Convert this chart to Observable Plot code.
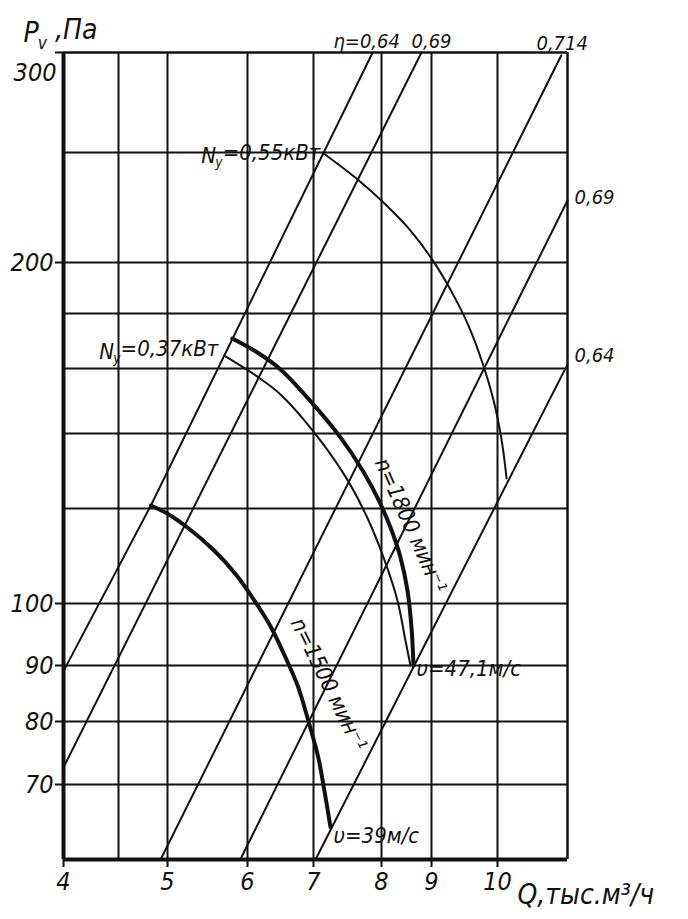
<!DOCTYPE html>
<html><head><meta charset="utf-8">
<script src="https://cdn.jsdelivr.net/npm/d3@7"></script>
<script src="https://cdn.jsdelivr.net/npm/@observablehq/plot@0.6"></script>
<style>body{margin:0;background:#fff}</style>
</head><body><div id="chart"></div>
<script>
const FONT = "'DejaVu Sans Condensed','Liberation Sans Narrow','DejaVu Sans',sans-serif";
const INK = "#111";

// Scale break values of the hand-drawn grid (Q, thousand m3/h; Pv, Pa)
const qBreaks = [4, 4.5, 5, 6, 7, 8, 9, 10, 11];
const pBreaks = [60, 70, 80, 90, 100, 120, 140, 160, 180, 200, 250, 300];
const qGrid = [4.5, 5, 6, 7, 8, 9, 10];
const pGrid = [70, 80, 90, 100, 120, 140, 160, 180, 200, 250];
const qTicks = [4, 5, 6, 7, 8, 9, 10];
const pTicks = [70, 80, 90, 100, 200, 300];

// Efficiency (system) lines, [Q, P]
const eta064Top = [[4, 89], [4.83, 120.8], [7.87, 300]];
const eta069Top = [[4, 72.7], [8.8, 300]];
const eta0714Top = [[4.93, 60], [10.91, 298.5]];
const eta069Right = [[5.91, 60], [11, 228.2]];
const eta064Right = [[7.03, 60], [11, 161.5]];

// Fan curves, [Q, P]
const power055 = [[7.13, 250], [7.65, 237.7], [8.06, 226.8], [8.58, 214.5], [9.03, 200.5], [9.32, 187.8], [9.56, 175.6], [9.77, 162.2], [9.94, 150.2], [10.06, 138.1], [10.13, 128]];
const power037 = [[5.71, 164.7], [6.15, 157.5], [6.5, 152], [7.0, 140.6], [7.47, 128.5], [7.79, 118.1], [8.04, 109.7], [8.32, 100.6], [8.48, 94.0], [8.58, 90]];
const speed1800 = [[5.81, 170.9], [6.15, 165.8], [6.5, 159.7], [7.0, 148.9], [7.40, 138.9], [7.74, 129.6], [7.94, 122.9], [8.18, 116.0], [8.38, 109.7], [8.52, 102.7], [8.60, 96.1], [8.64, 90]];
const speed1500 = [[4.83, 120.8], [5.0, 118.9], [5.25, 116.0], [5.58, 111.2], [5.86, 106.0], [6.11, 100.5], [6.35, 96.3], [6.55, 91.9], [6.76, 86.4], [6.92, 80.2], [7.07, 74.3], [7.16, 69.2], [7.25, 64.3]];

const toRows = (name, pts) => pts.map(([Q, P]) => ({name, Q, P}));
const diagRows = [
  ...toRows("0.64t", eta064Top), ...toRows("0.69t", eta069Top), ...toRows("0.714", eta0714Top),
  ...toRows("0.69r", eta069Right), ...toRows("0.64r", eta064Right)
];
const thinRows = [...toRows("N0.55", power055), ...toRows("N0.37", power037)];
const thickRows = [...toRows("n1800", speed1800), ...toRows("n1500", speed1500)];

const T = (text, Q, P) => [{text, Q, P}];
const txt = (data, o) => Plot.text(data, {x: "Q", y: "P", text: "text", fill: INK, fontFamily: FONT, fontStyle: "italic", ...o});
const masked = {ariaLabel: "masked-label"};

const svg = Plot.plot({
  width: 688, height: 919,
  marginLeft: 63, marginRight: 121, marginTop: 52, marginBottom: 60,
  style: {fontSize: "25px", fontFamily: FONT, fontStyle: "italic", color: INK, background: "#fff"},
  x: {type: "linear", domain: qBreaks, range: [63, 118, 167, 247, 313, 381, 431, 497, 567],
      ticks: qTicks, tickSize: 8, tickPadding: 5, tickFormat: d => String(d), label: null},
  y: {type: "linear", domain: pBreaks, range: [859, 784, 721, 665, 603, 508, 433, 368, 313, 262, 152, 52],
      ticks: pTicks, tickSize: 8, tickPadding: 2, tickFormat: d => d === 300 ? "" : String(d), label: null},
  marks: [
    Plot.ruleX(qGrid, {stroke: INK, strokeWidth: 2}),
    Plot.ruleY(pGrid, {stroke: INK, strokeWidth: 2}),
    Plot.ruleX([11], {stroke: INK, strokeWidth: 2.5}),
    Plot.ruleY([300], {stroke: INK, strokeWidth: 2.5}),
    Plot.line(diagRows, {x: "Q", y: "P", z: "name", stroke: INK, strokeWidth: 2}),
    // labels
    txt(T("η=0,64", 7.87, 300), {fontSize: 20, dx: -6, dy: -11}),
    txt(T("0,69", 8.8, 300), {fontSize: 20, dx: 10, dy: -11}),
    txt(T("0,714", 10.91, 298.5), {fontSize: 20, dx: 1, dy: -12}),
    txt(T("0,69", 11, 228.2), {fontSize: 20, textAnchor: "start", dx: 7, dy: -3}),
    txt(T("0,64", 11, 161.5), {fontSize: 20, textAnchor: "start", dx: 7, dy: -9}),
    txt(T("N_у=0,55кВт", 7.13, 250), {fontSize: 22, textAnchor: "end", dx: -2, dy: 3, ...masked}),
    txt(T("N_у=0,37кВт", 5.71, 164.7), {fontSize: 22, textAnchor: "end", dx: -6, dy: -4, ...masked}),
    txt(T("υ=47,1м/с", 8.64, 90), {fontSize: 22, textAnchor: "start", dx: 3, dy: 3, ...masked}),
    txt(T("υ=39м/с", 7.25, 64.3), {fontSize: 22, textAnchor: "start", dx: 3, dy: 9, ...masked}),
    txt(T("n=1800 мин⁻¹", 8.58, 116.4), {fontSize: 22, rotate: 66, ...masked}),
    txt(T("n=1500 мин⁻¹", 7.22, 86.6), {fontSize: 22, rotate: 64, ...masked}),
    txt(T("300", 4, 300), {fontSize: 25, textAnchor: "end", dx: -7, dy: 20}),
    txt(T("P_v ,Па", 4, 300), {fontSize: 28, textAnchor: "start", dx: -40, dy: -19}),
    txt(T("Q,тыс.м³/ч", 10, 60), {fontSize: 28, textAnchor: "start", dx: 20, dy: 36}),
    // curves
    Plot.line(thinRows, {x: "Q", y: "P", z: "name", stroke: INK, strokeWidth: 2, curve: "catmull-rom"}),
    Plot.line(thickRows, {x: "Q", y: "P", z: "name", stroke: INK, strokeWidth: 4, curve: "catmull-rom"}),
    Plot.ruleX([4], {stroke: INK, strokeWidth: 4}),
    Plot.ruleY([60], {stroke: INK, strokeWidth: 4})
  ]
});

document.getElementById("chart").appendChild(svg);

// subscripts written as X_y
d3.select(svg).selectAll("text").each(function () {
  const m = /^(.*?)_(.)(.*)$/.exec(this.textContent);
  if (!m) return;
  const s = d3.select(this);
  s.text(null);
  s.append("tspan").text(m[1]);
  s.append("tspan").attr("font-size", "0.62em").attr("dy", "0.35em").attr("dx", "-0.05em").text(m[2]);
  s.append("tspan").attr("dy", "-0.35em").text(m[3]);
});
// white background behind in-chart labels (they interrupt the grid, as in the drawing)
d3.select(svg).selectAll("g[aria-label='masked-label'] text").each(function () {
  const b = this.getBBox();
  const r = document.createElementNS("http://www.w3.org/2000/svg", "rect");
  r.setAttribute("x", b.x);
  r.setAttribute("y", b.y + b.height * 0.18);
  r.setAttribute("width", b.width);
  r.setAttribute("height", b.height * 0.66);
  r.setAttribute("fill", "#fff");
  const tr = this.getAttribute("transform");
  if (tr) r.setAttribute("transform", tr);
  this.parentNode.insertBefore(r, this);
});
d3.select(svg).selectAll("g[aria-label*='axis'] path, g[aria-label*='axis'] line").attr("stroke-width", 2);
</script>
</body></html>
